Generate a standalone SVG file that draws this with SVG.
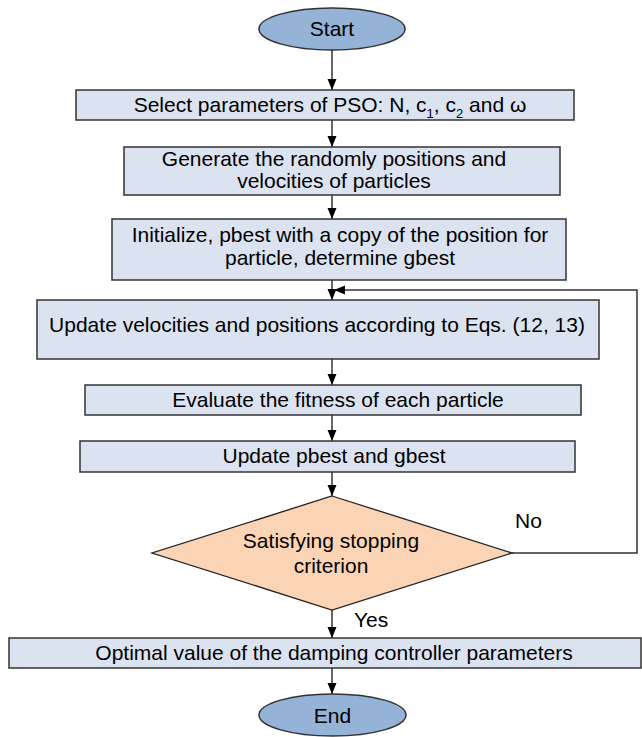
<svg xmlns="http://www.w3.org/2000/svg" width="642" height="737" viewBox="0 0 642 737">
<style>
text{font-family:"Liberation Sans",Arial,sans-serif;font-size:21px;fill:#000;text-anchor:middle}
.box{fill:#dce3f0;stroke:#333;stroke-width:1.5}
.term{fill:#95b3d7;stroke:#333;stroke-width:1.5}
.dec{fill:#fad4b4;stroke:#222;stroke-width:1.3}
.con{fill:none;stroke:#333;stroke-width:1.5}
.lbl{text-anchor:start}
</style>
<defs>
<marker id="ah" markerUnits="userSpaceOnUse" markerWidth="12" markerHeight="12" viewBox="0 0 12 12" refX="11" refY="6" orient="auto">
<path d="M0,1.5 L11,6 L0,10.5 Z" fill="#000"/>
</marker>
</defs>
<g id="connectors">
<line class="con" x1="332" y1="50" x2="332" y2="90" marker-end="url(#ah)"/>
<line class="con" x1="332" y1="120" x2="332" y2="147" marker-end="url(#ah)"/>
<line class="con" x1="332" y1="195" x2="332" y2="219" marker-end="url(#ah)"/>
<line class="con" x1="332" y1="280" x2="332" y2="300" marker-end="url(#ah)"/>
<line class="con" x1="332" y1="359" x2="332" y2="385" marker-end="url(#ah)"/>
<line class="con" x1="332" y1="415" x2="332" y2="441" marker-end="url(#ah)"/>
<line class="con" x1="332" y1="472" x2="332" y2="496" marker-end="url(#ah)"/>
<line class="con" x1="332" y1="610" x2="332" y2="638" marker-end="url(#ah)"/>
<line class="con" x1="332" y1="668" x2="332" y2="694" marker-end="url(#ah)"/>
<polyline class="con" points="512,553 637,553 637,290 334,290" marker-end="url(#ah)"/>
<text class="lbl" x="515" y="528">No</text>
<text class="lbl" x="354" y="627">Yes</text>
</g>
<g id="start">
<ellipse class="term" cx="332" cy="29" rx="73" ry="21"/>
<text x="332" y="36">Start</text>
</g>
<g id="select">
<rect class="box" x="76" y="90" width="498" height="30"/>
<text x="330" y="112">Select parameters of PSO: N, c<tspan font-size="13" dy="6">1</tspan><tspan dy="-6">, c</tspan><tspan font-size="13" dy="6">2</tspan><tspan dy="-6"> and ω</tspan></text>
</g>
<g id="generate">
<rect class="box" x="124" y="147" width="436" height="48"/>
<text x="334" y="166">Generate the randomly positions and</text>
<text x="334" y="188">velocities of particles</text>
</g>
<g id="initialize">
<rect class="box" x="112" y="219" width="454" height="61"/>
<text x="340" y="242">Initialize, pbest with a copy of the position for</text>
<text x="340" y="265">particle, determine gbest</text>
</g>
<g id="update-vel">
<rect class="box" x="37" y="300" width="562" height="59"/>
<text x="317" y="332">Update velocities and positions according to Eqs. (12, 13)</text>
</g>
<g id="evaluate">
<rect class="box" x="85" y="385" width="496" height="30"/>
<text x="338" y="407">Evaluate the fitness of each particle</text>
</g>
<g id="update-best">
<rect class="box" x="80" y="441" width="495" height="31"/>
<text x="334" y="463">Update pbest and gbest</text>
</g>
<g id="decision">
<polygon class="dec" points="332,496 512,553 332,610 152,553"/>
<text x="331" y="548">Satisfying stopping</text>
<text x="331" y="573">criterion</text>
</g>
<g id="optimal">
<rect class="box" x="9" y="638" width="632" height="30"/>
<text x="334" y="660">Optimal value of the damping controller parameters</text>
</g>
<g id="end">
<ellipse class="term" cx="332.5" cy="715" rx="73.5" ry="21"/>
<text x="332.5" y="723">End</text>
</g>
</svg>
